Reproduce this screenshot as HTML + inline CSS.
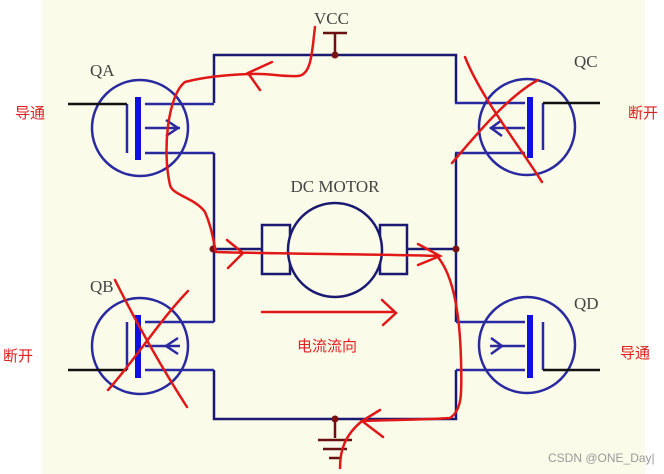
<!DOCTYPE html>
<html><head><meta charset="utf-8"><style>
html,body{margin:0;padding:0;background:#fff;}
svg{display:block}
</style></head><body>
<svg width="664" height="474" viewBox="0 0 664 474" xmlns="http://www.w3.org/2000/svg">
<rect x="0" y="0" width="664" height="474" fill="#ffffff"/>
<rect x="42" y="0" width="603" height="474" fill="#fbfbea"/>
<g font-family="Liberation Serif, serif" fill="#444" font-size="17">
<text x="314" y="24">VCC</text>
<text x="90" y="76">QA</text>
<text x="90" y="292">QB</text>
<text x="574" y="67">QC</text>
<text x="574" y="309">QD</text>
<text x="335" y="192" text-anchor="middle">DC MOTOR</text>
</g>
<g fill="none" stroke="#1a1a70" stroke-width="2.5">
<path d="M214 103 V55 H456 V103"/>
<path d="M214 153 V322"/>
<path d="M456 153 V322"/>
<path d="M214 370 V419 H456 V370"/>
<path d="M214 249 H262 M407 249 H456"/>
<rect x="262" y="225" width="28" height="49"/>
<rect x="380" y="225" width="27" height="49"/>
<circle cx="335" cy="250" r="47" fill="#fbfbea"/>
</g>
<g stroke="#6a1010" stroke-width="2.5" fill="none">
<path d="M323 33 H347 M335 33 V55"/>
<path d="M335 419 V438 M318 440 H352 M323 449 H347 M329 458 H341"/>
</g>
<g fill="#7a1010"><circle cx="335" cy="55" r="3.5"/><circle cx="335" cy="419" r="3.5"/><circle cx="213" cy="249" r="3.5"/><circle cx="456" cy="249" r="3.5"/></g>
<g fill="none" stroke="#2a2aa0" stroke-width="2.5">
<circle cx="140" cy="128" r="48"/>
<path d="M145 104 H214 M145 128 H180 M145 153 H214 M127 104 V153"/>
<path d="M166 120 L178 128 L166 136"/>
<circle cx="140" cy="346" r="48"/>
<path d="M145 322 H214 M145 346 H180 M145 370 H214 M127 322 V370"/>
<path d="M178 338 L166 346 L178 354"/>
<circle cx="527" cy="127" r="48"/>
<path d="M455 103 H525 M490 128 H525 M455 153 H525 M543 103 V150"/>
<path d="M502 120 L491 128 L502 136"/>
<circle cx="527" cy="345" r="48"/>
<path d="M456 322 H525 M490 346 H525 M456 370 H525 M543 322 V370"/>
<path d="M491 338 L502 346 L491 354"/>
</g>
<g stroke="#1010e0" stroke-width="6"><path d="M138 97 V160 M138 315 V378 M530 97 V158 M530 315 V378"/></g>
<g stroke="#111" stroke-width="2.5"><path d="M68 104 H127 M68 370 H127 M543 103 H600 M543 370 H600"/></g>
<g fill="none" stroke="#e01818" stroke-width="2.5" stroke-linecap="round">
<path d="M315 27 C312 50 312 75 298 76 C280 77 270 73 250 74 C220 75 200 78 185 82 C168 95 162 150 170 185 C172 195 195 198 205 212 C212 228 213 240 216 252 C280 254 380 254 440 256"/>
<path d="M272 62 L248 73 L260 90"/>
<path d="M227 240 L243 253 L228 268"/>
<path d="M418 244 L440 256 L418 265"/>
<path d="M436 255 C455 275 460 320 461 360 C462 395 462 410 450 418 C420 420 380 420 362 421 C345 435 340 450 340 468"/>
<path d="M380 410 L362 421 L383 437"/>
<path d="M262 312 H395 M382 300 L396 313 L383 325"/>
<path d="M465 57 C480 95 515 140 542 182"/>
<path d="M452 163 C480 130 510 95 538 80"/>
<path d="M115 280 C135 320 160 365 187 407"/>
<path d="M108 390 C135 360 160 320 188 291"/>
</g>
<g font-family="Liberation Sans, 'Noto Sans CJK SC', sans-serif" fill="#e02020" font-size="15">
<text x="15" y="118">导通</text>
<text x="628" y="118">断开</text>
<text x="3" y="361">断开</text>
<text x="620" y="358">导通</text>
<text x="297" y="351">电流流向</text>
</g>
<text x="548" y="462" font-family="Liberation Sans, sans-serif" font-size="12" fill="#999">CSDN @ONE_Day|</text>
</svg>
</body></html>
